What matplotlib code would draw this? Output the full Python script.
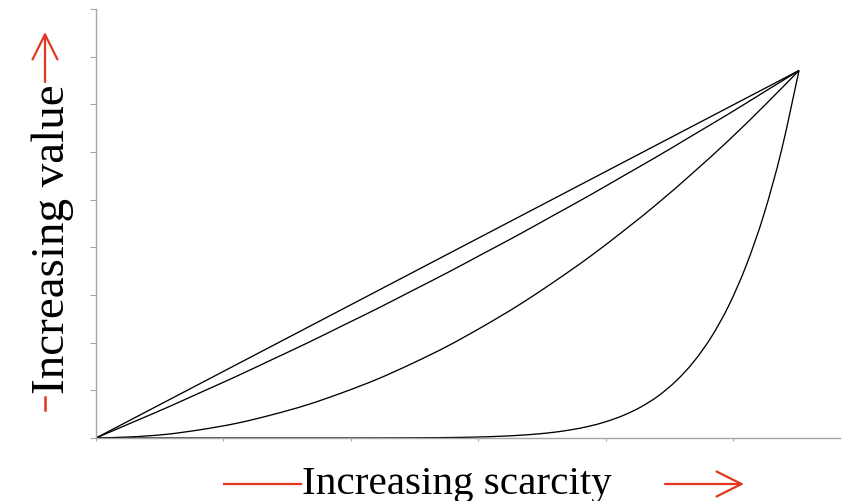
import matplotlib
matplotlib.use("Agg")
import matplotlib.pyplot as plt
from matplotlib.lines import Line2D
from matplotlib.path import Path
from matplotlib.patches import PathPatch, FancyArrowPatch

# Relative scarcity (0 = abundant, 1 = scarcest) and the value it commands
scarcity = [0.00, 0.05, 0.10, 0.15, 0.20, 0.25, 0.30, 0.35, 0.40, 0.45, 0.50,
            0.55, 0.60, 0.65, 0.70, 0.75, 0.80, 0.85, 0.90, 0.95, 1.00]
value_linear = [0.000, 0.050, 0.100, 0.150, 0.200, 0.250, 0.300, 0.350, 0.400, 0.450, 0.500,
                0.550, 0.600, 0.650, 0.700, 0.750, 0.800, 0.850, 0.900, 0.950, 1.000]
value_mild = [0.000, 0.041, 0.082, 0.125, 0.168, 0.213, 0.258, 0.305, 0.352, 0.401, 0.450,
              0.501, 0.552, 0.605, 0.658, 0.713, 0.768, 0.825, 0.882, 0.941, 1.000]
value_convex = [0.000, 0.003, 0.010, 0.023, 0.040, 0.063, 0.090, 0.123, 0.160, 0.203, 0.250,
                0.303, 0.360, 0.423, 0.490, 0.563, 0.640, 0.723, 0.810, 0.903, 1.000]

# The steepest curve is sampled more densely
scarcity_steep = [0.000, 0.025, 0.050, 0.075, 0.100, 0.125, 0.150, 0.175, 0.200, 0.225,
                  0.250, 0.275, 0.300, 0.325, 0.350, 0.375, 0.400, 0.425, 0.450, 0.475,
                  0.500, 0.525, 0.550, 0.575, 0.600, 0.625, 0.650, 0.675, 0.700, 0.725,
                  0.750, 0.775, 0.800, 0.825, 0.850, 0.875, 0.900, 0.925, 0.950, 0.975, 1.000]
value_steep = [0.0, 0.0, 0.0, 0.0, 0.0, 0.0, 0.0, 0.0, 0.0, 0.0,
               0.0, 0.0, 0.0, 0.0, 0.0, 0.0, 0.0001, 0.00025, 0.0004, 0.0007,
               0.0012, 0.0019, 0.0030, 0.0047, 0.0071, 0.0105, 0.0153, 0.0221, 0.0314, 0.0442,
               0.0614, 0.0843, 0.1148, 0.155, 0.207, 0.274, 0.360, 0.470, 0.608, 0.782, 1.000]

y_label = "Increasing value"
x_label = "Increasing scarcity"

RED = "#e2361f"
GRAY = "#a6a6a6"
W, H = 843, 502

fig = plt.figure(figsize=(W / 100, H / 100), dpi=100)
ax = fig.add_axes([96 / W, 1 - 439 / H, (840 - 96) / W, 429 / H])


def smooth_path(xs, ys):
    """Catmull-Rom style cubic Bezier through the given points (smoothed line)."""
    pts = list(zip(xs, ys))
    n = len(pts)
    verts = [pts[0]]
    codes = [Path.MOVETO]
    for i in range(n - 1):
        p0 = pts[i - 1] if i > 0 else pts[i]
        p1 = pts[i]
        p2 = pts[i + 1]
        p3 = pts[i + 2] if i + 2 < n else pts[i + 1]
        c1 = (p1[0] + (p2[0] - p0[0]) / 6, p1[1] + (p2[1] - p0[1]) / 6)
        c2 = (p2[0] - (p3[0] - p1[0]) / 6, p2[1] - (p3[1] - p1[1]) / 6)
        verts += [c1, c2, p2]
        codes += [Path.CURVE4] * 3
    return Path(verts, codes)


for xs, ys in ((scarcity, value_linear), (scarcity, value_mild),
               (scarcity, value_convex), (scarcity_steep, value_steep)):
    ax.add_patch(PathPatch(smooth_path(xs, ys), facecolor="none",
                           edgecolor="black", lw=0.95, joinstyle="round"))

x_max = (840 - 96) / 703
y_max = 429 / 367.5
ax.set_xlim(0, x_max)
ax.set_ylim(0, y_max)

x_step = 127.4 / 703
y_step = 429 / 9 / 367.5
ax.set_xticks([i * x_step for i in range(6)])
ax.set_yticks([i * y_step for i in range(10)])
ax.set_xticklabels([])
ax.set_yticklabels([])
ax.tick_params(axis="y", direction="out", length=4, width=0.8, color=GRAY)
ax.tick_params(axis="x", direction="out", length=2, width=0.8, color=GRAY)

for side in ("top", "right"):
    ax.spines[side].set_visible(False)
for side in ("left", "bottom"):
    ax.spines[side].set_color(GRAY)
    ax.spines[side].set_linewidth(1.0)


def fx(px):
    return px / W


def fy(py):
    return 1 - py / H


serif = ["Liberation Serif", "DejaVu Serif"]

# Axis captions
fig.text(fx(302), fy(494), x_label, ha="left", va="baseline",
         family=serif, size=29.6, color="black")
fig.text(fx(64), fy(394), y_label, ha="left", va="baseline", rotation=90,
         rotation_mode="anchor", family=serif, size=33.8, color="black")

# Red direction markers around the captions
fig.add_artist(Line2D([fx(224), fx(301)], [fy(485), fy(485)], color=RED, lw=1.6))
fig.add_artist(Line2D([fx(45), fx(45)], [fy(398), fy(411)], color=RED, lw=1.8))
arrow = dict(arrowstyle="->,head_length=0.9,head_width=0.45", color=RED, lw=1.6,
             shrinkA=0, shrinkB=0)
fig.add_artist(FancyArrowPatch((fx(665), fy(485)), (fx(744), fy(485)),
                               transform=fig.transFigure, mutation_scale=20, **arrow))
fig.add_artist(FancyArrowPatch((fx(45), fy(83)), (fx(45), fy(33)),
                               transform=fig.transFigure, mutation_scale=20, **arrow))

fig.savefig("out.png", dpi=100)
